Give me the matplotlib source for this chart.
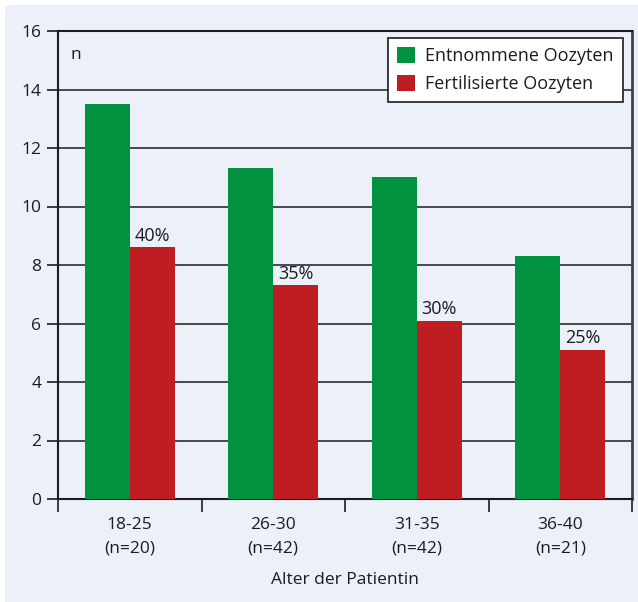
import matplotlib.pyplot as plt
import numpy as np
from matplotlib.patches import Rectangle

plt.rcParams['font.family'] = ['Open Sans', 'DejaVu Sans']

groups = ['18-25\n(n=20)', '26-30\n(n=42)', '31-35\n(n=42)', '36-40\n(n=21)']
entnommen = [13.5, 11.3, 11.0, 8.3]
fertilisiert = [8.6, 7.3, 6.1, 5.1]
anteil = ['40%', '35%', '30%', '25%']

green = '#00923f'
red = '#be1e22'
bg = '#ecf0f9'
ink = '#1c1c1c'

fig = plt.figure(figsize=(6.38, 6.02), dpi=100, facecolor='white')
# light blue panel behind everything
fig.patches.append(Rectangle((5/638, 0), 1, 1 - 5/602, transform=fig.transFigure,
                             facecolor=bg, edgecolor='none', zorder=-10))
ax = fig.add_axes([58/638, 1 - 499/602, 574/638, 468/602])
ax.set_facecolor(bg)

x = np.arange(len(groups))
w = 0.314
ax.bar(x - w/2, entnommen, w, color=green, label='Entnommene Oozyten', zorder=3)
ax.bar(x + w/2, fertilisiert, w, color=red, label='Fertilisierte Oozyten', zorder=3)

for xi, val, txt in zip(x, fertilisiert, anteil):
    ax.annotate(txt, (xi + w/2, val), xytext=(0, 2), textcoords='offset points',
                ha='center', va='bottom', fontsize=13, color=ink, zorder=4)

ax.set_xlim(-0.5, 3.5)
ax.set_ylim(0, 16)
ax.set_yticks(np.arange(0, 17, 2))
ax.yaxis.grid(True, color=ink, linewidth=1.1, zorder=0)
ax.set_axisbelow(True)

ax.set_xticks(x)
ax.set_xticklabels(groups, fontsize=12.5, color=ink, linespacing=1.6)
ax.set_xticks(np.arange(-0.5, 4, 1), minor=True)
ax.tick_params(axis='x', which='major', length=0, pad=13)
ax.tick_params(axis='x', which='minor', length=9, width=1.2, color=ink)
ax.tick_params(axis='y', length=8, width=1.2, labelsize=12.5, colors=ink, pad=4)

for s in ax.spines.values():
    s.set_linewidth(1.5)
    s.set_color(ink)
ax.spines['right'].set_color('#444444')
ax.spines['right'].set_linewidth(2)

ax.set_xlabel('Alter der Patientin', fontsize=12.5, color=ink, labelpad=11)
ax.text(0.022, 0.965, 'n', transform=ax.transAxes, fontsize=12.5, color=ink,
        ha='left', va='top')

leg = ax.legend(loc='upper right', bbox_to_anchor=(623/638, 1 - 38/602),
                bbox_transform=fig.transFigure, borderaxespad=0,
                fancybox=False, framealpha=1, edgecolor=ink,
                fontsize=13, handlelength=0.95, handleheight=0.95,
                handletextpad=0.6, labelspacing=0.55, borderpad=0.5)
leg.get_frame().set_linewidth(1.2)
for t in leg.get_texts():
    t.set_color(ink)

fig.savefig('out.png', dpi=100, facecolor=fig.get_facecolor())
